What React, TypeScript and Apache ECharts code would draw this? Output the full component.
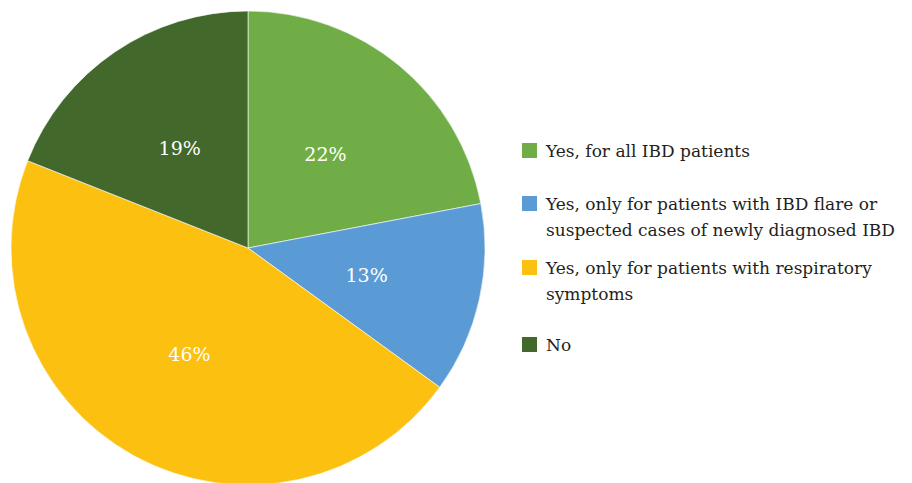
import React, { useEffect, useRef } from "react";
import * as echarts from "echarts";

const categories: string[] = [
  "Yes, for all IBD patients",
  "Yes, only for patients with IBD flare or\nsuspected cases of newly diagnosed IBD",
  "Yes, only for patients with respiratory\nsymptoms",
  "No",
];
const values: number[] = [22, 13, 46, 19];
const colors: string[] = ["#70AD47", "#5B9BD5", "#FCC010", "#43682B"];
const legendTops: number[] = [143, 196, 260, 337];

export default function App() {
  const ref = useRef<HTMLDivElement>(null);
  useEffect(() => {
    document.body.style.margin = "0";
    if (!ref.current) return;
    const chart = echarts.init(ref.current, null, { renderer: "svg" });
    const legendGraphics: any[] = categories.map((name, i) => ({
      type: "group",
      x: 522,
      y: legendTops[i],
      children: [
        {
          type: "rect",
          shape: { x: 0, y: 0, width: 15, height: 15 },
          style: { fill: colors[i] },
        },
        {
          type: "text",
          x: 24,
          y: -5,
          style: {
            text: name,
            fill: "#231F20",
            fontFamily: "DejaVu Serif",
            fontSize: 17,
            lineHeight: 26,
            verticalAlign: "top",
          },
        },
      ],
    }));
    chart.setOption({
      animation: false,
      backgroundColor: "#ffffff",
      graphic: legendGraphics,
      series: [
        {
          type: "pie",
          center: [248, 248],
          radius: [0, 237],
          startAngle: 90,
          clockwise: true,
          silent: true,
          data: categories.map((name, i) => ({
            name,
            value: values[i],
            itemStyle: { color: colors[i] },
          })),
          itemStyle: { borderColor: "#ffffff", borderWidth: 0.6 },
          label: {
            show: true,
            position: "inside",
            formatter: "{c}%",
            color: "#ffffff",
            fontFamily: "DejaVu Serif",
            fontSize: 19,
          },
          labelLine: { show: false },
        },
      ],
    });
    return () => chart.dispose();
  }, []);
  return <div ref={ref} style={{ width: 912, height: 483 }} />;
}
